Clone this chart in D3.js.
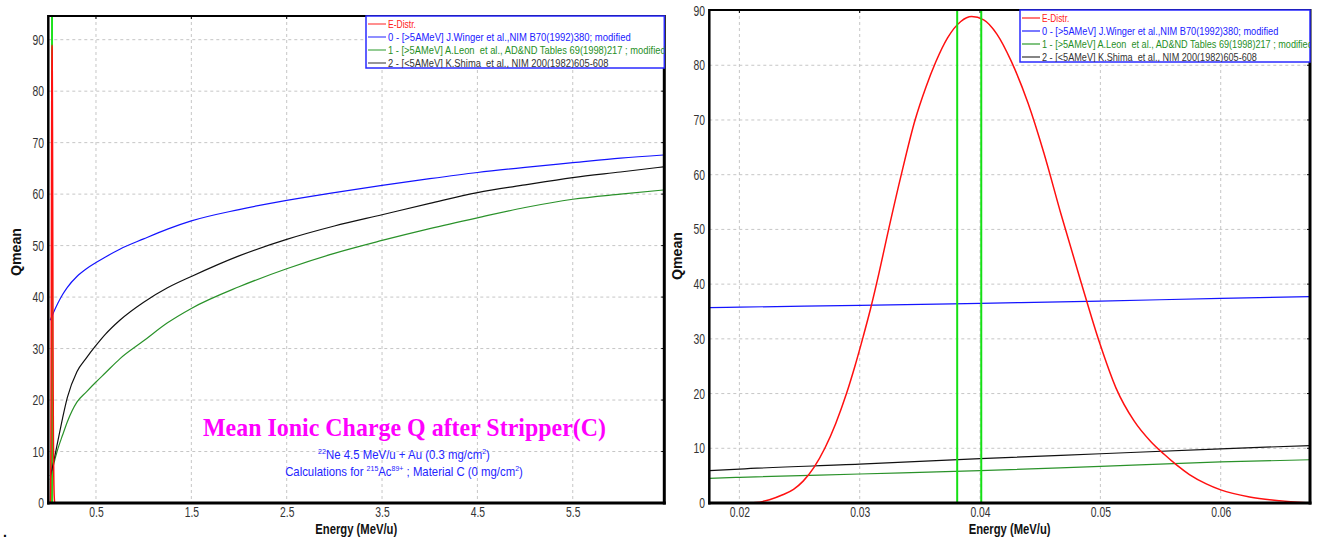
<!DOCTYPE html>
<html><head><meta charset="utf-8">
<script src="https://cdn.jsdelivr.net/npm/d3@7"></script>
<style>body{margin:0;background:#fff}svg{display:block}</style>
</head><body><svg id="c" width="1317" height="540"></svg>
<script>
// ---------------- data ----------------
const yTicks = [0,10,20,30,40,50,60,70,80,90];
const leftXTicks = [0.5,1.5,2.5,3.5,4.5,5.5];
const rightXTicks = [0.02,0.03,0.04,0.05,0.06];

// left panel: Qmean vs energy (MeV/u)
const leftE      = [0.02,0.05,0.1,0.15,0.2,0.3,0.4,0.5,0.6,0.75,1.0,1.25,1.5,2.0,2.5,3.0,3.5,4.0,4.5,5.0,5.5,6.0,6.45];
const leftBlue   = [35.5,36.8,38.8,40.5,41.9,44,45.5,46.7,47.8,49.3,51.3,53.2,54.8,57,58.8,60.3,61.7,63,64.2,65.2,66.1,67,67.6];
const leftGreen  = [4.5,7,10.5,13.2,15.8,19.6,21.6,23.5,25.3,28,31.5,35,37.8,42,45.5,48.5,51,53.3,55.4,57.4,59,60,60.8];
const leftBlack  = [5.2,7.5,12,16.5,20.5,25.5,28.2,30.6,32.8,35.5,39,41.8,44,48,51.2,53.8,56,58.2,60.3,61.8,63.2,64.3,65.3];

// right panel (zoom on the energy distribution)
const rightE     = [0.0175,0.02,0.03,0.04,0.05,0.06,0.0674];
const rightBlue  = [35.7,35.8,36.1,36.5,36.9,37.4,37.7];
const rightGreen = [4.5,4.7,5.3,5.9,6.7,7.5,7.9];
const rightBlack = [5.9,6.2,7.1,8.1,9.0,9.9,10.5];

// energy distribution
const eDistrE = [0.0200,0.0214,0.0225,0.0236,0.0245,0.0253,0.0262,0.0271,0.0280,0.0289,0.0296,0.0303,0.0309,0.0316,0.0322,0.0334,0.0346,0.0355,0.0363,0.0373,0.0384,0.0393,0.0403,0.0414,0.0426,0.0440,0.0453,0.0467,0.0484,0.0499,0.0513,0.0528,0.0542,0.0553,0.0563,0.0574,0.0588,0.0600,0.0624,0.0649,0.0671];
const eDistrQ = [0,0.1,0.6,1.5,2.5,4,6.5,10,14.5,20,25,30.5,35.5,42,48,59.5,70,76,80.5,85,88,88.9,88.3,85.7,80.7,73,64,53,40.3,29.5,21,15,11.2,8.9,7,5.2,3.5,2.4,1.1,0.4,0.05];

// energy window markers
const markers = [0.0381, 0.0401];

const legendLabels = [
  "E-Distr.",
  "0 - [>5AMeV] J.Winger et al.,NIM B70(1992)380; modified",
  "1 - [>5AMeV] A.Leon  et al., AD&ND Tables 69(1998)217 ; modified",
  "2 - [<5AMeV] K.Shima  et al., NIM 200(1982)605-608"
];
const titleText = "Mean Ionic Charge Q after Stripper(C)";

// ---------------- styles ----------------
const C = {red:"#ff1010", blue:"#1414ff", green:"#2a922a", black:"#111", marker:"#14e014",
           grid:"#c6c6c6", tick:"#333", legText:["#ff2020","#2020ff","#1f8f1f","#333"],
           legLine:["#ff2020","#2020ff","#2a9a2a","#333"]};
const FONT = "'Liberation Sans', Arial, sans-serif";

const svg = d3.select("#c");
const defs = svg.append("defs");

function fitText(g, target) {
  const w = g.node().getBBox().width;
  return w > 0 ? target / w : 1;
}

function drawPanel(p) {
  const x = d3.scaleLinear().domain(p.xd).range([p.x0, p.x1]);
  const y = d3.scaleLinear().domain(p.yd).range([p.y1, p.y0]);
  const g = svg.append("g");
  defs.append("clipPath").attr("id", "clip" + p.id).append("rect")
    .attr("x", p.x0).attr("y", p.y0).attr("width", p.x1 - p.x0).attr("height", p.y1 - p.y0);

  // grid
  g.append("g").selectAll("line").data(p.xt).join("line")
    .attr("x1", d => x(d)).attr("x2", d => x(d)).attr("y1", p.y0).attr("y2", p.y1)
    .attr("stroke", C.grid).attr("stroke-dasharray", "3,3");
  g.append("g").selectAll("line").data(yTicks.filter(d => d > 0 && y(d) > p.y0 + 1)).join("line")
    .attr("y1", d => y(d)).attr("y2", d => y(d)).attr("x1", p.x0).attr("x2", p.x1)
    .attr("stroke", C.grid).attr("stroke-dasharray", "3,3");

  // inward ticks on top and right border
  g.append("g").selectAll("line").data(p.xt).join("line")
    .attr("x1", d => x(d)).attr("x2", d => x(d)).attr("y1", p.y0).attr("y2", p.y0 + 3)
    .attr("stroke", "#000");
  g.append("g").selectAll("line").data(yTicks.filter(d => d > 0)).join("line")
    .attr("y1", d => y(d)).attr("y2", d => y(d)).attr("x1", p.x1 - 3).attr("x2", p.x1)
    .attr("stroke", "#000");

  const plot = g.append("g").attr("clip-path", `url(#clip${p.id})`);
  const line = d3.line().x(d => x(d[0])).y(d => y(d[1])).curve(d3.curveMonotoneX);
  const mk = () => plot.append("g").selectAll("line").data(markers).join("line")
      .attr("x1", d => x(d)).attr("x2", d => x(d)).attr("y1", p.y0).attr("y2", p.y1)
      .attr("stroke", C.marker).attr("stroke-width", p.markerW);
  if (p.markersBelow) mk();
  p.series.forEach(s => {
    plot.append("path").datum(d3.zip(s.e, s.q)).attr("d", line)
      .attr("fill", "none").attr("stroke", s.color).attr("stroke-width", s.w || 1.2);
  });
  plot.append("path").datum(d3.zip(eDistrE, eDistrQ)).attr("d", line)
    .attr("fill", "none").attr("stroke", C.red).attr("stroke-width", 1.5);
  if (!p.markersBelow) mk();

  // axes
  const xa = g.append("g").attr("transform", `translate(0,${p.y1})`)
    .call(d3.axisBottom(x).tickValues(p.xt).tickFormat(p.fmt).tickSize(0).tickPadding(4.5));
  xa.select(".domain").remove();
  xa.selectAll("text").attr("font-size", 14).attr("font-family", FONT).attr("fill", C.tick)
    .attr("transform", "scale(0.74,1)");
  const ya = g.append("g").attr("transform", `translate(${p.x0},0)`)
    .call(d3.axisLeft(y).tickValues(yTicks).tickFormat(d3.format("d")).tickSize(0));
  ya.select(".domain").remove();
  ya.selectAll("text").attr("font-size", 14).attr("font-family", FONT).attr("fill", C.tick)
    .attr("x", 0).attr("transform", "translate(-4.3,0) scale(0.74,1)");

  // frame
  const fr = g.append("g").attr("stroke", "#000").attr("fill", "none");
  fr.append("line").attr("x1", p.x0).attr("x2", p.x1).attr("y1", p.y0).attr("y2", p.y0).attr("stroke-width", 2);
  fr.append("line").attr("x1", p.x1).attr("x2", p.x1).attr("y1", p.y0 - 1).attr("y2", p.y1 + 1.5).attr("stroke-width", 3);
  fr.append("line").attr("x1", p.x0).attr("x2", p.x0).attr("y1", p.y0 - 1).attr("y2", p.y1 + 1.5).attr("stroke-width", 2.5);
  fr.append("line").attr("x1", p.x0 - 1).attr("x2", p.x1 + 1.5).attr("y1", p.y1).attr("y2", p.y1).attr("stroke-width", 3);

  // legend
  const lg = g.append("g").attr("transform", `translate(${p.legX},${p.y0})`);
  const lw = p.x1 - p.legX, lh = 52;
  defs.append("clipPath").attr("id", "lclip" + p.id).append("rect").attr("x", p.legX).attr("y", p.y0).attr("width", lw).attr("height", lh);
  lg.append("rect").attr("x", 0).attr("y", 0).attr("width", lw).attr("height", lh)
    .attr("fill", "#fff").attr("stroke", "#2a2aff").attr("stroke-width", 1.5);
  const rowsY = [8, 21, 34, 47];
  const targets = [28, 243, 278, 221].map(v => v * p.legScale);
  const lt = g.append("g").attr("clip-path", `url(#lclip${p.id})`);
  legendLabels.forEach((t, i) => {
    lt.append("line").attr("x1", p.legX + 2).attr("x2", p.legX + 20)
      .attr("y1", p.y0 + rowsY[i]).attr("y2", p.y0 + rowsY[i]).attr("stroke", C.legLine[i]).attr("stroke-width", 1.2);
    const tg = lt.append("g");
    const tx = tg.append("text").attr("x", 0).attr("y", 0).attr("font-family", FONT).attr("font-size", 10.5)
      .attr("fill", C.legText[i]).style("white-space", "pre").text(t);
    const k = fitText(tx, targets[i]);
    tg.attr("transform", `translate(${p.legX + 22},${p.y0 + rowsY[i] + 3.8}) scale(${k},1)`);
  });

  // axis titles
  const xt = g.append("g");
  const xtt = xt.append("text").attr("text-anchor", "middle").attr("font-family", FONT).attr("font-weight", "bold")
    .attr("font-size", 14).attr("fill", "#111").text("Energy (MeV/u)");
  xt.attr("transform", `translate(${(p.x0 + p.x1) / 2},534) scale(${fitText(xtt, 82)},1)`);
  const yt = g.append("g");
  const ytt = yt.append("text").attr("text-anchor", "middle").attr("font-family", FONT).attr("font-weight", "bold")
    .attr("font-size", 14).attr("fill", "#111").text("Qmean");
  yt.attr("transform", `translate(${p.qx},${p.qy}) rotate(-90) scale(${fitText(ytt, 48)},1)`);
  return {x, y};
}

drawPanel({id: "L", x0: 48.3, x1: 664.3, y0: 16, y1: 503, xd: [0, 6.46], yd: [0, 94.6],
  xt: leftXTicks, fmt: d3.format(".1f"), markersBelow: true, markerW: 1.5,
  legX: 366, legScale: 1, qx: 20.5, qy: 252,
  series: [{e: leftE, q: leftBlue, color: C.blue}, {e: leftE, q: leftGreen, color: C.green}, {e: leftE, q: leftBlack, color: C.black}]});

drawPanel({id: "R", x0: 709.3, x1: 1310, y0: 10, y1: 503, xd: [0.0175, 0.06742], yd: [0, 90.1],
  xt: rightXTicks, fmt: d3.format(".2f"), markersBelow: false, markerW: 2,
  legX: 1020, legScale: 0.975, qx: 681.5, qy: 256,
  series: [{e: rightE, q: rightBlue, color: C.blue}, {e: rightE, q: rightGreen, color: C.green}, {e: rightE, q: rightBlack, color: C.black}]});

// titles in left panel
function centered(build, cx, cy, target) {
  const g = svg.append("g");
  const t = build(g);
  g.attr("transform", `translate(${cx},${cy}) scale(${fitText(t, target)},1)`);
}
centered(g => g.append("text").attr("text-anchor", "middle").attr("font-family", "'Liberation Serif', 'Times New Roman', serif")
  .attr("font-weight", "bold").attr("font-size", 25).attr("fill", "#ff00ff").text(titleText), 404.5, 436, 403);

centered(g => {
  const t = g.append("text").attr("text-anchor", "middle").attr("font-family", FONT).attr("font-size", 13).attr("fill", "#2424ff");
  t.append("tspan").attr("font-size", 8).attr("dy", -5).text("22");
  t.append("tspan").attr("dy", 5).text("Ne 4.5 MeV/u + Au (0.3 mg/cm");
  t.append("tspan").attr("font-size", 8).attr("dy", -5).text("2");
  t.append("tspan").attr("dy", 5).text(")");
  return t;
}, 404, 459, 172);

centered(g => {
  const t = g.append("text").attr("text-anchor", "middle").attr("font-family", FONT).attr("font-size", 13).attr("fill", "#2424ff");
  t.append("tspan").text("Calculations for ");
  t.append("tspan").attr("font-size", 8).attr("dy", -5).text("215");
  t.append("tspan").attr("dy", 5).text("Ac");
  t.append("tspan").attr("font-size", 8).attr("dy", -5).text("89+");
  t.append("tspan").attr("dy", 5).text(" ; Material C (0 mg/cm");
  t.append("tspan").attr("font-size", 8).attr("dy", -5).text("2");
  t.append("tspan").attr("dy", 5).text(")");
  return t;
}, 404, 476, 238);

svg.append("text").attr("x", 3).attr("y", 537).attr("font-family", FONT).attr("font-size", 14)
  .attr("font-weight", "bold").text(".");
</script></body></html>
